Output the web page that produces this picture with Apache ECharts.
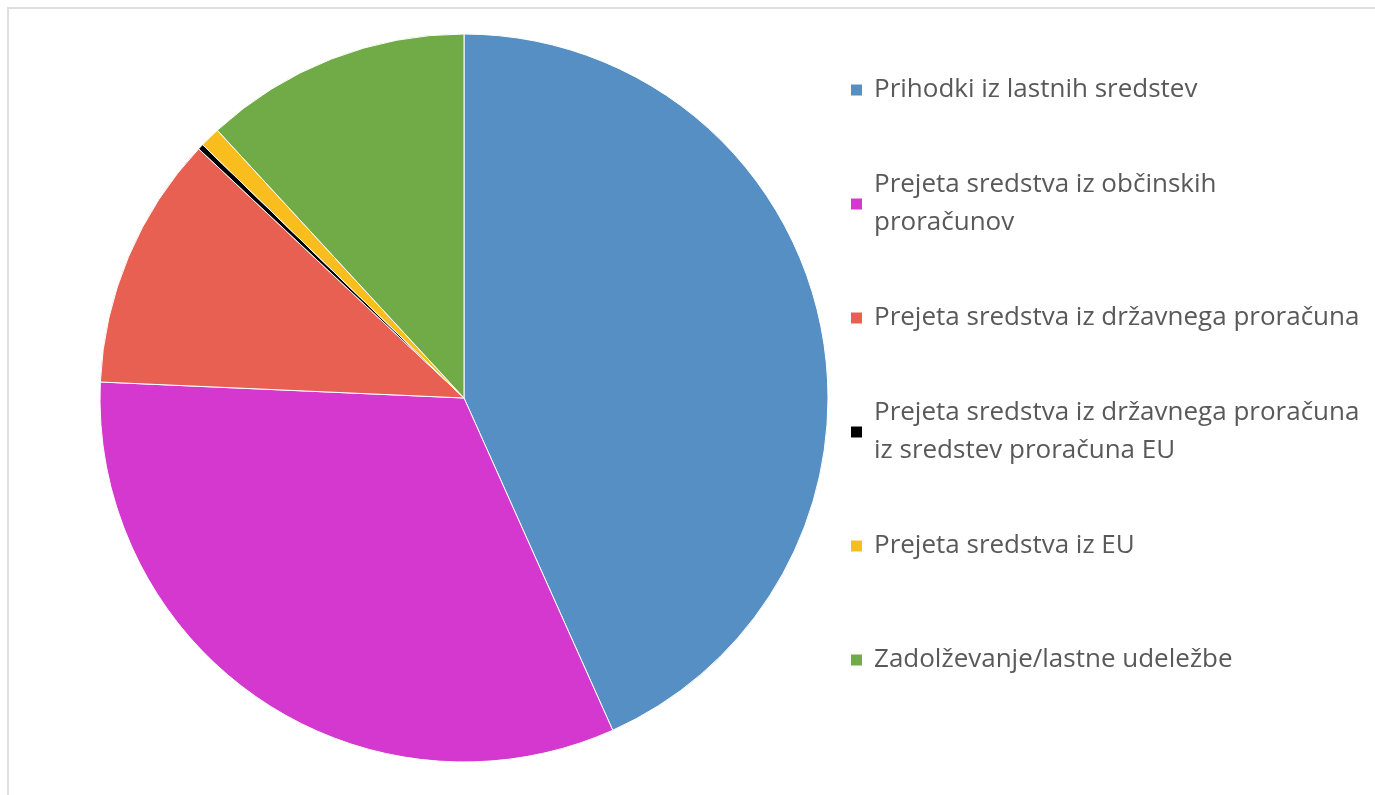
<!DOCTYPE html>
<html>
<head>
<meta charset="utf-8">
<script src="https://cdn.jsdelivr.net/npm/echarts@6/dist/echarts.min.js"></script>
<style>
  html, body { margin: 0; padding: 0; background: #fff; }
  #main { width: 1375px; height: 795px; }
</style>
</head>
<body>
<div id="main"></div>
<script>
// podatki (deleži v %), odčitani s slike
var names = [
    'Prihodki iz lastnih sredstev',
    'Prejeta sredstva iz občinskih proračunov',
    'Prejeta sredstva iz državnega proračuna',
    'Prejeta sredstva iz državnega proračuna iz sredstev proračuna EU',
    'Prejeta sredstva iz EU',
    'Zadolževanje/lastne udeležbe'
];
var legendLabels = [
    'Prihodki iz lastnih sredstev',
    'Prejeta sredstva iz občinskih\nproračunov',
    'Prejeta sredstva iz državnega proračuna',
    'Prejeta sredstva iz državnega proračuna\niz sredstev proračuna EU',
    'Prejeta sredstva iz EU',
    'Zadolževanje/lastne udeležbe'
];
var values = [43.3, 32.4, 11.3, 0.25, 0.9, 11.85];
var colors = ['#558FC4', '#D438CE', '#E86052', '#000000', '#F9BE1E', '#70AB47'];

var LH = 38; // višina vrstice legende

var dom = document.getElementById('main');
var chart = echarts.init(dom);

var pieData = names.map(function (n, i) {
    return { name: n, value: values[i], itemStyle: { color: colors[i] } };
});

// vsaka postavka legende enako visoka, ikona poravnana s prvo vrstico
var legendData = names.map(function (n, i) {
    var twoLines = legendLabels[i].indexOf('\n') >= 0;
    return {
        name: n,
        textStyle: {
            padding: twoLines ? [LH, 0, 0, 6] : [LH, 0, LH, 6],
            backgroundColor: 'rgba(0,0,0,0)'
        }
    };
});

var option = {
    backgroundColor: '#fff',
    animation: false,
    color: colors,
    graphic: [{
        type: 'rect',
        shape: { x: 8, y: 8, width: 1420, height: 820 },
        style: { fill: 'none', stroke: '#dedede', lineWidth: 2 },
        silent: true
    }],
    legend: {
        orient: 'vertical',
        left: 849,
        top: 33,
        padding: 0,
        itemGap: 0,
        itemWidth: 13,
        itemHeight: 13,
        icon: 'rect',
        data: legendData,
        formatter: function (name) {
            return legendLabels[names.indexOf(name)];
        },
        textStyle: {
            fontFamily: 'Open Sans',
            fontSize: 26,
            lineHeight: LH,
            color: '#595959'
        }
    },
    series: [{
        type: 'pie',
        center: [464, 398],
        radius: 364,
        startAngle: 90,
        clockwise: true,
        label: { show: false },
        labelLine: { show: false },
        emphasis: { disabled: true },
        itemStyle: { borderColor: '#ffffff', borderWidth: 1 },
        data: pieData
    }]
};

chart.setOption(option);
</script>
</body>
</html>
